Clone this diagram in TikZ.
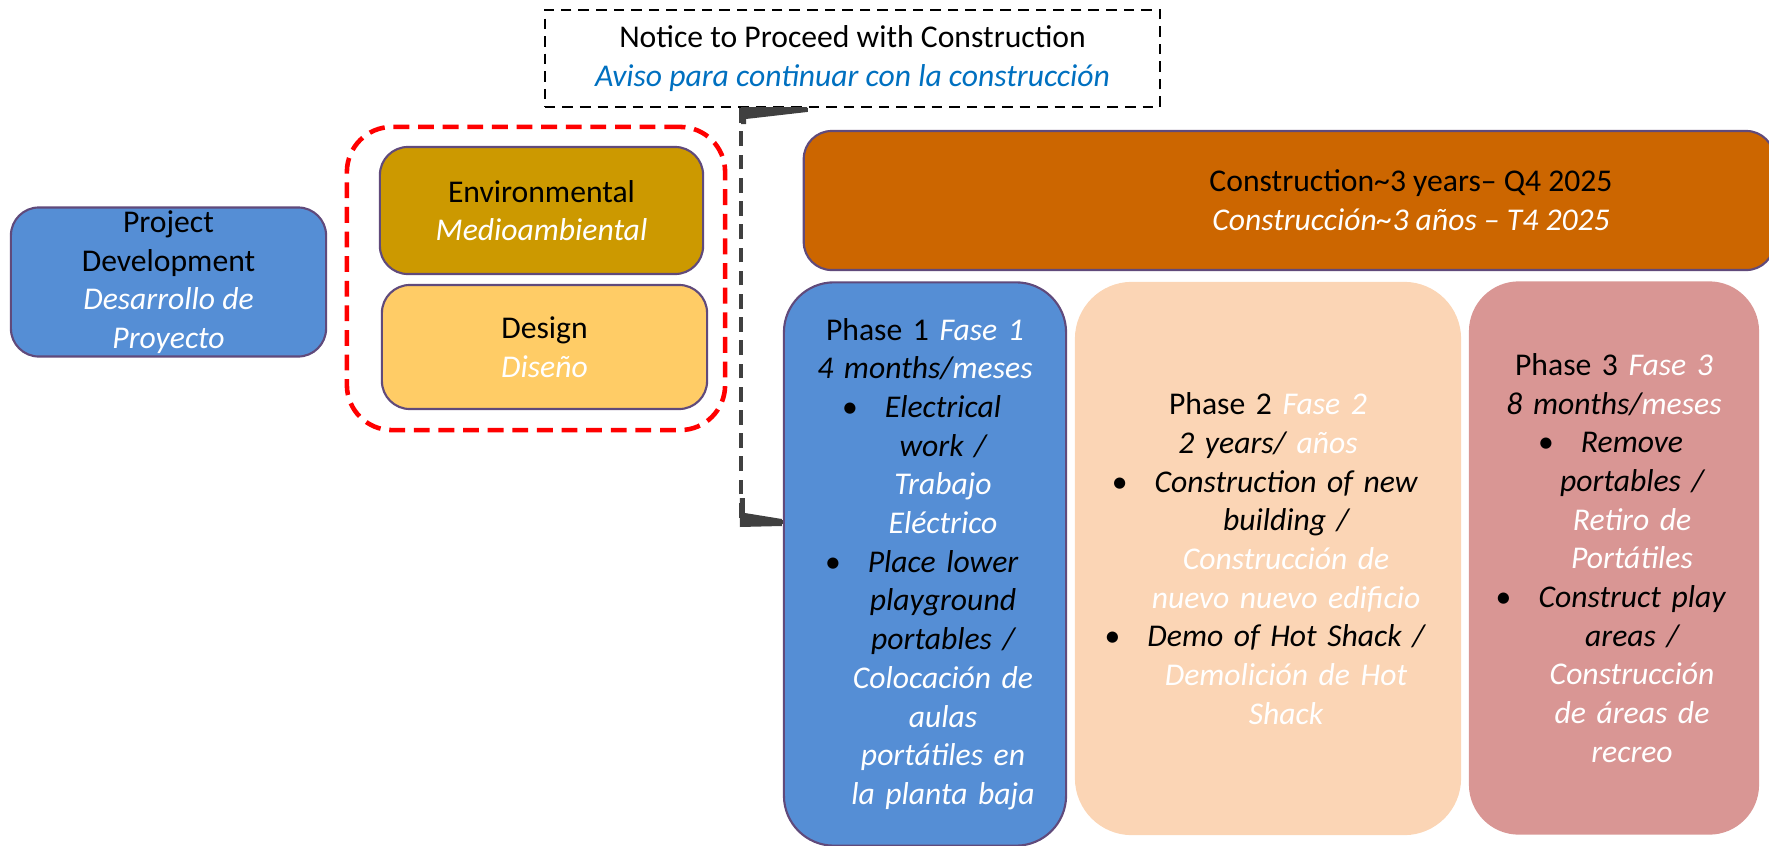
\documentclass[tikz,border=0pt]{standalone}
\usepackage{fontspec}
\setmainfont{Carlito}
\usetikzlibrary{calc}
\definecolor{pdblue}{HTML}{558ED5}
\definecolor{envgold}{HTML}{CC9900}
\definecolor{desyellow}{HTML}{FFCC66}
\definecolor{conorange}{HTML}{CC6600}
\definecolor{phpeach}{HTML}{FBD5B5}
\definecolor{phrose}{HTML}{D99694}
\definecolor{boxedge}{HTML}{604A7B}
\definecolor{ntpblue}{HTML}{0070C0}
\definecolor{ntpgray}{HTML}{404040}
\newcommand{\es}[1]{\textit{\color{white}#1}}
\newcommand{\itln}[1]{\mbox{\kern0.36cm\itshape #1}}
\newcommand{\itbul}[1]{\mbox{\kern0.36cm\llap{\upshape\textbullet\kern0.27cm}\itshape #1}}
\begin{document}
\begin{tikzpicture}[x=0.01cm, y=-0.01cm,
    txt/.style={align=center, font=\fontsize{9}{11}\selectfont},
    box/.style={txt, draw=boxedge, line width=0.6pt, rounded corners=0.28cm, inner sep=0pt},
    phasebox/.style={box, rounded corners=0.5cm, minimum height=5.53cm},
    noticebox/.style={txt, draw=black, line width=0.6pt, dash pattern=on 3pt off 2pt, inner sep=0pt},
    grpbox/.style={draw=red, line width=1.3pt, dash pattern=on 4.5pt off 2.5pt, rounded corners=0.45cm},
    ntpline/.style={draw=ntpgray, line width=1.15pt, dash pattern=on 4.2pt off 2.4pt},
    ntpwedge/.style={fill=ntpgray}]
\useasboundingbox (0,0) rectangle (1769,845);
\node[noticebox, minimum width=6.15cm, minimum height=0.97cm] (notice) at (852.5,58.5)
    {Notice to Proceed with Construction\\\textit{\color{ntpblue}Aviso para continuar con la construcción}};
\node[box, fill=pdblue, minimum width=3.15cm, minimum height=1.49cm] (projdev) at (168.5,282)
    {Project\\Development\\\es{Desarrollo de}\\\es{Proyecto}};
\node[grpbox, minimum width=3.78cm, minimum height=3.03cm] (grp) at (536,278.5) {};
\node[box, fill=envgold, minimum width=3.23cm, minimum height=1.27cm] (env) at (541.5,210.5)
    {Environmental\\\es{Medioambiental}};
\node[box, fill=desyellow, minimum width=3.25cm, minimum height=1.24cm] (design) at (544.5,347)
    {Design\\\es{Diseño}};
\node[box, fill=conorange, minimum width=9.7cm, minimum height=1.39cm] (constr) at (1289,200.5) {};
\node[txt] (constrtxt) at (1411,200)
    {Construction\textasciitilde 3 years-- Q4 2025\\\es{Construcción\textasciitilde 3 años -- T4 2025}};
\node[phasebox, fill=pdblue, minimum width=2.82cm, minimum height=5.63cm, text width=2.6cm] (phase1) at (925,564)
    {Phase 1 \es{Fase 1}\\
    \textit{4 months/\color{white}meses}\\
    \itbul{Electrical}\\
    \itln{work /}\\
    \itln{\color{white}Trabajo}\\
    \itln{\color{white}Eléctrico}\\
    \itbul{Place lower}\\
    \itln{playground}\\
    \itln{portables /}\\
    \itln{\color{white}Colocación de}\\
    \itln{\color{white}aulas}\\
    \itln{\color{white}portátiles en}\\
    \itln{\color{white}la planta baja}};
\node[phasebox, draw=none, fill=phpeach, rounded corners=0.57cm, minimum width=3.86cm, text width=3.6cm] (phase2) at (1268,558.5)
    {Phase 2 \es{Fase 2}\\
    \textit{2 years/ \color{white}años}\\
    \itbul{Construction of new}\\
    \itln{building /}\\
    \itln{\color{white}Construcción de}\\
    \itln{\color{white}nuevo nuevo edificio}\\
    \itbul{Demo of Hot Shack /}\\
    \itln{\color{white}Demolición de Hot}\\
    \itln{\color{white}Shack}};
\node[phasebox, draw=none, fill=phrose, rounded corners=0.5cm, minimum width=2.9cm, text width=2.75cm] (phase3) at (1614,558)
    {Phase 3 \es{Fase 3}\\
    \textit{8 months/\color{white}meses}\\
    \itbul{Remove}\\
    \itln{portables /}\\
    \itln{\color{white}Retiro de}\\
    \itln{\color{white}Portátiles}\\
    \itbul{Construct play}\\
    \itln{areas /}\\
    \itln{\color{white}Construcción}\\
    \itln{\color{white}de áreas de}\\
    \itln{\color{white}recreo}};
\coordinate (ntpend) at (808,110);
\coordinate (p1in) at ($(phase1.west)+(0,-42)$);
\draw[ntpline] (p1in) -- ++(-42,0) |- (ntpend);
\fill[ntpwedge, shift={(p1in)}] (-43,-24) -- (-38,-24) -- (-38,-9) -- (-1,-3) -- (-1,4) -- (-43,5) -- cycle;
\fill[ntpwedge, shift={(ntpend)}] (-67,-3) -- (-1,-3) -- (-1,2) -- (-62,9) -- (-62,14) -- (-67,14) -- cycle;
\end{tikzpicture}
\end{document}
